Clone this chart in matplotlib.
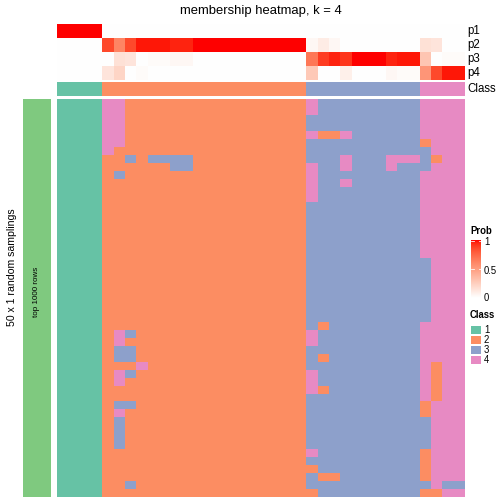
import numpy as np
import matplotlib
matplotlib.use("Agg")
import matplotlib.pyplot as plt
from matplotlib.colors import ListedColormap

plt.rcParams['font.family'] = ['Liberation Sans', 'DejaVu Sans']

# class labels of each column (consensus)
col_class = [1]*4 + [2]*18 + [3]*10 + [4]*4

# membership probabilities per column
p1 = [1, 1, 1, 1] + [0]*32
p2 = [0, 0, 0, 0, .86, .62, .86, .98, .98, .98, .96, .96] + [1]*10 + \
     [.04, .10, .04, 0, 0, 0, 0, 0, 0, 0, .16, .14, 0, 0]
p3 = [0, 0, 0, 0, 0, .16, .14, 0, .02, .02, .04, .04] + [0]*10 + \
     [.68, .90, .96, .92, 1, 1, 1, .96, .98, .98, .30, 0, .02, .02]
p4 = [0, 0, 0, 0, .14, .22, 0, .02, 0, 0, 0, 0] + [0]*10 + \
     [.28, 0, 0, .08, 0, 0, 0, .04, .02, .02, .54, .86, .98, .98]

# class assignment in each of the 50 random samplings (rows) x 36 samples
samplings = [
    "111144222222222222222243333333334444",
    "111144222222222222222243333333334444",
    "111144222222222222222233333333334444",
    "111144222222222222222233333333334444",
    "111144222222222222222242243333334444",
    "111144222222222222222233333333332444",
    "111142222222222222222233333333333444",
    "111122323333222222222233343334443244",
    "111122222233222222222243343334333444",
    "111123222222222222222243333333334444",
    "111122222222222222222243343333334444",
    "111122222222222222222243333333334444",
    "111122222222222222222243333333334444",
    "111122222222222222222233333333334444",
    "111122222222222222222233333333334444",
    "111122222222222222222233333333334444",
    "111122222222222222222233333333334444",
    "111122222222222222222233333333334444",
    "111122222222222222222233333333334444",
    "111122222222222222222233333333334444",
    "111122222222222222222233333333333444",
    "111122222222222222222233333333333444",
    "111122222222222222222233333333333444",
    "111122222222222222222233333333333444",
    "111122222222222222222233333333333444",
    "111122222222222222222233333333333444",
    "111122222222222222222233333333333444",
    "111122222222222222222233333333333444",
    "111122222222222222222232333333334444",
    "111124322222222222222243333333334444",
    "111124222222222222222243333333334444",
    "111123322222222222222233333333334444",
    "111123322222222222222232333333334444",
    "111122242222222222222233333333334244",
    "111124322222222222222243333333334244",
    "111124222222222222222243333333334244",
    "111122222222222222222242333333334244",
    "111122222222222222222233333333334244",
    "111123322222222222222233333333332444",
    "111124222222222222222233333333332444",
    "111123222222222222222233333333333444",
    "111123222222222222222233333333333444",
    "111123222222222222222233333333333444",
    "111123222222222222222233333333333444",
    "111122222222222222222243333333332444",
    "111122222222222222222233333333332444",
    "111122222222222222222223333333332444",
    "111122222222222222222232233333332444",
    "111122322222222222222233333333333433",
    "111122222222222222222223333333332244",
]

class_colors = ["#66C2A5", "#FC8D62", "#8DA0CB", "#E78AC3"]
class_names = ["1", "2", "3", "4"]
prob_ticks = ["0", "0.5", "1"]


# white -> red ramp interpolated in LAB space
def srgb_to_lab(rgb):
    rgb = np.asarray(rgb, float)
    c = np.where(rgb > 0.04045, ((rgb + 0.055) / 1.055) ** 2.4, rgb / 12.92)
    M = np.array([[0.4124, 0.3576, 0.1805], [0.2126, 0.7152, 0.0722], [0.0193, 0.1192, 0.9505]])
    xyz = M @ c / np.array([0.95047, 1.0, 1.08883])
    d = 6 / 29
    f = np.where(xyz > d ** 3, np.cbrt(xyz), xyz / (3 * d * d) + 4 / 29)
    return np.array([116 * f[1] - 16, 500 * (f[0] - f[1]), 200 * (f[1] - f[2])])


def lab_to_srgb(lab):
    L, a, b = lab
    fy = (L + 16) / 116
    fx = fy + a / 500
    fz = fy - b / 200
    d = 6 / 29
    f = np.array([fx, fy, fz])
    xyz = np.where(f > d, f ** 3, 3 * d * d * (f - 4 / 29)) * np.array([0.95047, 1.0, 1.08883])
    Minv = np.array([[3.2406, -1.5372, -0.4986], [-0.9689, 1.8758, 0.0415], [0.0557, -0.2040, 1.0570]])
    c = Minv @ xyz
    c = np.clip(c, 0, 1)
    return np.where(c > 0.0031308, 1.055 * c ** (1 / 2.4) - 0.055, 12.92 * c)


lab_w = srgb_to_lab([1, 1, 1])
lab_r = srgb_to_lab([1, 0, 0])
ramp = [np.clip(lab_to_srgb(lab_w + t * (lab_r - lab_w)), 0, 1) for t in np.linspace(0, 1, 256)]
prob_cmap = ListedColormap(ramp)
class_cmap = ListedColormap(class_colors)

W, H = 504, 504
fig = plt.figure(figsize=(W / 72, H / 72), dpi=72)


def add_px_axes(x0, y0, x1, y1):
    ax = fig.add_axes([x0 / W, 1 - y1 / H, (x1 - x0) / W, (y1 - y0) / H])
    ax.set_axis_off()
    return ax


def px_text(x, y, s, **kw):
    fig.text(x / W, 1 - y / H, s, **kw)


hm_x0, hm_x1 = 57, 465

# membership probabilities
ax = add_px_axes(hm_x0, 24, hm_x1, 80)
ax.imshow(np.array([p1, p2, p3, p4]), cmap=prob_cmap, vmin=0, vmax=1,
          aspect='auto', interpolation='nearest')
for i, lab in enumerate(["p1", "p2", "p3", "p4"]):
    px_text(467, 31 + 14 * i, lab, fontsize=11.5, va='center', ha='left')

# consensus class row
ax = add_px_axes(hm_x0, 82, hm_x1, 96)
ax.imshow(np.array([col_class]) - 1, cmap=class_cmap, vmin=0, vmax=3,
          aspect='auto', interpolation='nearest')
px_text(467, 89, "Class", fontsize=11.5, va='center', ha='left')

# main heatmap of random samplings
mat = np.array([[int(ch) for ch in row] for row in samplings])
ax = add_px_axes(hm_x0, 99, hm_x1, 497)
ax.imshow(mat - 1, cmap=class_cmap, vmin=0, vmax=3, aspect='auto', interpolation='nearest')

# left annotation bar
ax = add_px_axes(23, 99, 51, 497)
ax.imshow([[0]], cmap=ListedColormap(["#7FC97F"]), aspect='auto')
px_text(36, 292, "top 1000 rows", fontsize=8, rotation=90, ha='center', va='center')
px_text(12, 267, "50 x 1 random samplings", fontsize=10.5, rotation=90, ha='center', va='center')

# title
px_text(261, 11, "membership heatmap, k = 4", fontsize=13, ha='center', va='center')

# Prob legend
px_text(470, 231, "Prob", fontsize=9.5, fontweight='bold', ha='left', va='center')
ax = add_px_axes(471, 240, 481, 298)
grad = np.linspace(1, 0, 100).reshape(-1, 1)
ax.imshow(grad, cmap=prob_cmap, vmin=0, vmax=1, aspect='auto', extent=[0, 1, 0, 1])
ax.set_xlim(0, 1)
ax.set_ylim(0, 1)
for v in [0.5, 1.0]:
    yy = (v * 0.96) + 0.02
    ax.plot([0, 0.25], [yy, yy], color='white', lw=0.8)
    ax.plot([0.75, 1], [yy, yy], color='white', lw=0.8)
for v, lab in zip([298, 271, 242], prob_ticks):
    px_text(484, v, lab, fontsize=9.5, ha='left', va='center')

# Class legend
px_text(470, 315, "Class", fontsize=9.5, fontweight='bold', ha='left', va='center')
for i, (c, lab) in enumerate(zip(class_colors, class_names)):
    y0 = 326 + 10 * i
    ax = add_px_axes(471, y0, 481, y0 + 8)
    ax.imshow([[0]], cmap=ListedColormap([c]), aspect='auto')
    px_text(484, y0 + 4, lab, fontsize=9.5, ha='left', va='center')

fig.savefig("out.png", dpi=72)
